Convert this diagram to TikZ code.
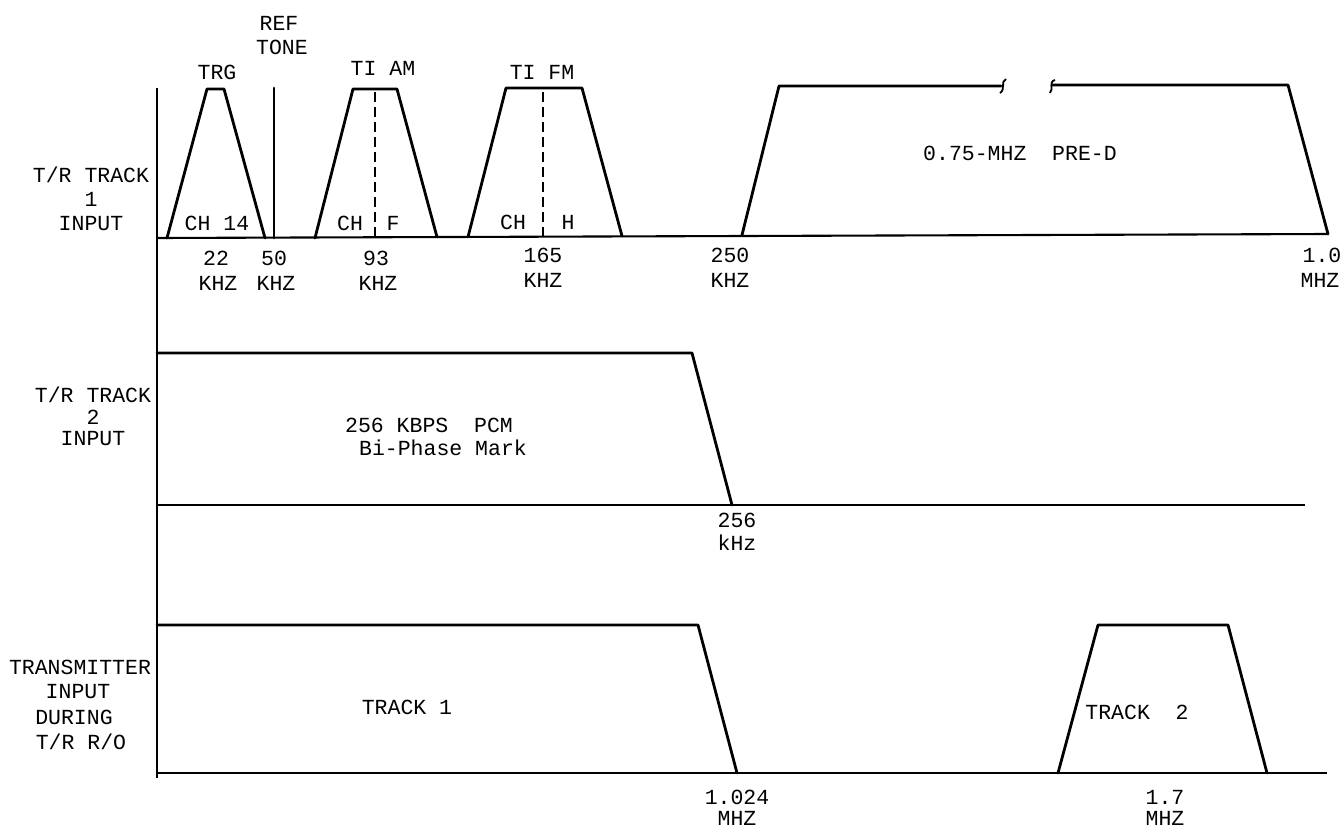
\documentclass[tikz,border=0pt]{standalone}
\usepackage{fontspec}
\setmainfont{Liberation Mono}
\begin{document}
\begin{tikzpicture}[x=1pt,y=-1pt,
  lbl/.style={font=\fontsize{21.5}{23}\selectfont, inner sep=0pt, anchor=center},
  sig/.style={line width=2.8pt, line join=round, line cap=round},
  axisline/.style={line width=2.1pt},
  dsh/.style={line width=2.2pt, dash pattern=on 10pt off 5pt}]
\useasboundingbox (0,0) rectangle (1344,830);
% vertical axis
\draw[axisline] (157,88) coordinate (axtop) -- (157,778) coordinate (axbot);
% ---------- Track 1 ----------
\draw[axisline] (157,238) coordinate (b1l) -- (1328,234) coordinate (b1r);
\draw[sig] (167,238) -- (207,89) -- (224,89) -- (265,238);
\draw[sig] (274,88) -- (274,238);
\draw[sig] (315,238) -- (353,89) -- (397,89) -- (437,237);
\draw[dsh] (375,92) -- (375,237);
\draw[sig] (468,237) -- (506,88) -- (582,88) -- (622,236);
\draw[dsh] (543,92) -- (543,236);
\draw[sig] (742,235) -- (779,86) -- (1001,86);
\draw[line width=1.8pt] (1000,93) .. controls (1006,89) and (1000,82) .. (1006,79);
\draw[line width=1.8pt] (1050,93) .. controls (1054,89) and (1048,82) .. (1055,80);
\draw[sig] (1052,85) -- (1288,85) -- (1328,234);
% labels track 1
\node[lbl] (ref) at (279,23) {REF};
\node[lbl] (tone) at (282,47) {TONE};
\node[lbl] (trg) at (217,72) {TRG};
\node[lbl] (tiam) at (383,68) {TI AM};
\node[lbl] (tifm) at (542,72) {TI FM};
\node[lbl] (ch14) at (217,223) {CH 14};
\node[lbl] (chf1) at (350,223) {CH};
\node[lbl] (ff) at (393,223) {F};
\node[lbl] (chh1) at (513,222) {CH};
\node[lbl] (hh) at (568,222) {H};
\node[lbl] (pred) at (1020,153) {0.75-MHZ\ \ PRE-D};
\node[lbl] (f22) at (216,258) {22};
\node[lbl] (k22) at (218,283) {KHZ};
\node[lbl] (f50) at (274,258) {50};
\node[lbl] (k50) at (276,283) {KHZ};
\node[lbl] (f93) at (376,258) {93};
\node[lbl] (k93) at (378,283) {KHZ};
\node[lbl] (f165) at (543,255) {165};
\node[lbl] (k165) at (543,280) {KHZ};
\node[lbl] (f250) at (730,255) {250};
\node[lbl] (k250) at (730,280) {KHZ};
\node[lbl] (f10) at (1322,255) {1.0};
\node[lbl] (m10) at (1320,280) {MHZ};
\node[lbl] (t1a) at (91,175) {T/R TRACK};
\node[lbl] (t1b) at (91,199) {1};
\node[lbl] (t1c) at (91,224) {INPUT};
% ---------- Track 2 ----------
\draw[sig] (157,353) -- (692,353) -- (732,505);
\draw[axisline] (157,505) -- (1305,505);
\node[lbl] (t2a) at (93,395) {T/R TRACK};
\node[lbl] (t2b) at (93,417) {2};
\node[lbl] (t2c) at (93,439) {INPUT};
\node[lbl] (pcm) at (429,425) {256 KBPS\ \ PCM};
\node[lbl] (bpm) at (443,448) {Bi-Phase Mark};
\node[lbl] (f256) at (737,520) {256};
\node[lbl] (k256) at (737,543) {kHz};
% ---------- Track 3 ----------
\draw[sig] (157,625) -- (698,625) -- (737,773);
\draw[axisline] (157,773) -- (1327,773);
\draw[sig] (1058,773) -- (1098,625) -- (1228,625) -- (1267,773);
\node[lbl] (t3a) at (80,667) {TRANSMITTER};
\node[lbl] (t3b) at (78,692) {INPUT};
\node[lbl] (t3c) at (74,717) {DURING};
\node[lbl] (t3d) at (81,742) {T/R R/O};
\node[lbl] (tr1) at (407,707) {TRACK 1};
\node[lbl] (tr2) at (1137,712) {TRACK\ \ 2};
\node[lbl] (f1024) at (737,797) {1.024};
\node[lbl] (m1024) at (737,818) {MHZ};
\node[lbl] (f17) at (1165,797) {1.7};
\node[lbl] (m17) at (1165,818) {MHZ};
\end{tikzpicture}
\end{document}
